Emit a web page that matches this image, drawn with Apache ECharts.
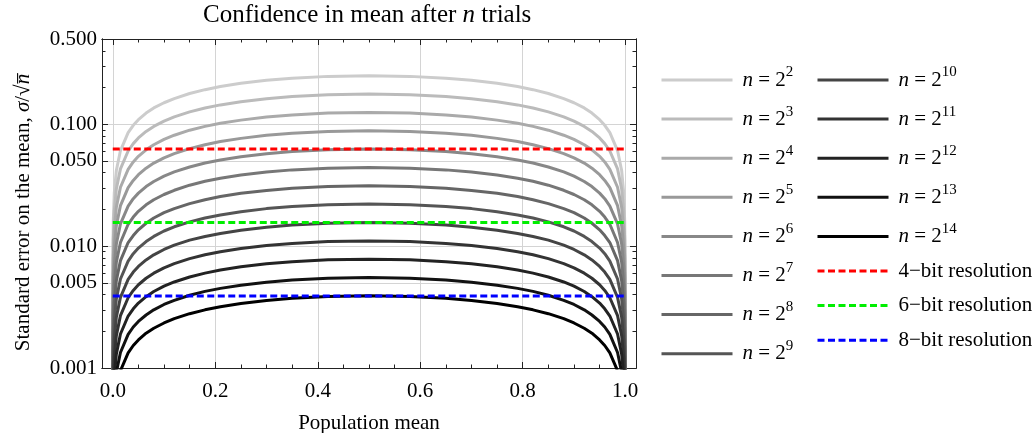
<!DOCTYPE html>
<html>
<head>
<meta charset="UTF-8" />
<title>Confidence in mean after n trials</title>
<script src="https://cdn.jsdelivr.net/npm/echarts@6/dist/echarts.min.js"></script>
<style>
  html, body { margin: 0; padding: 0; background: #ffffff; }
  #main { width: 1035px; height: 433px; }
</style>
</head>
<body>
<div id="main"></div>
<script type="text/javascript">
// population mean (x) where each curve was read
var xs = [0.000001, 0.0002, 0.001, 0.003, 0.007, 0.015, 0.03, 0.04, 0.05, 0.065, 0.08, 0.1, 0.12, 0.15, 0.18, 0.21, 0.25, 0.3, 0.35, 0.42, 0.5,
          0.58, 0.65, 0.7, 0.75, 0.79, 0.82, 0.85, 0.88, 0.9, 0.92, 0.935, 0.95, 0.96, 0.97, 0.985, 0.993, 0.997, 0.999, 0.9998, 0.999999];

// exponents k of n = 2^k
var exponents = [2, 3, 4, 5, 6, 7, 8, 9, 10, 11, 12, 13, 14];

// standard error, one list per n
var se_n4 = [0.0005, 0.00707, 0.0158, 0.0273, 0.0417, 0.0608, 0.0853, 0.098, 0.109, 0.1233, 0.136, 0.15, 0.162, 0.1785, 0.192, 0.2037, 0.217, 0.2291, 0.238, 0.2468, 0.25,
             0.2468, 0.238, 0.2291, 0.217, 0.2037, 0.192, 0.1785, 0.162, 0.15, 0.136, 0.1233, 0.109, 0.098, 0.0853, 0.0608, 0.0417, 0.0273, 0.0158, 0.00707, 0.0005];
var se_n8 = [0.000354, 0.005, 0.0112, 0.0193, 0.0295, 0.043, 0.0603, 0.0693, 0.0771, 0.0872, 0.0959, 0.1061, 0.115, 0.1262, 0.136, 0.144, 0.153, 0.162, 0.169, 0.1745, 0.177,
             0.1745, 0.169, 0.162, 0.153, 0.144, 0.136, 0.1262, 0.115, 0.1061, 0.0959, 0.0872, 0.0771, 0.0693, 0.0603, 0.043, 0.0295, 0.0193, 0.0112, 0.005, 0.000354];
var se_n16 = [0.00025, 0.00354, 0.0079, 0.0137, 0.0208, 0.0304, 0.0426, 0.049, 0.0545, 0.0616, 0.0678, 0.075, 0.0812, 0.0893, 0.096, 0.1018, 0.108, 0.1146, 0.119, 0.1234, 0.125,
              0.1234, 0.119, 0.1146, 0.108, 0.1018, 0.096, 0.0893, 0.0812, 0.075, 0.0678, 0.0616, 0.0545, 0.049, 0.0426, 0.0304, 0.0208, 0.0137, 0.0079, 0.00354, 0.00025];
var se_n32 = [0.000177, 0.0025, 0.00559, 0.00967, 0.0147, 0.0215, 0.0302, 0.0346, 0.0385, 0.0436, 0.048, 0.053, 0.0574, 0.0631, 0.0679, 0.072, 0.0765, 0.081, 0.0843, 0.0873, 0.0884,
              0.0873, 0.0843, 0.081, 0.0765, 0.072, 0.0679, 0.0631, 0.0574, 0.053, 0.048, 0.0436, 0.0385, 0.0346, 0.0302, 0.0215, 0.0147, 0.00967, 0.00559, 0.0025, 0.000177];
var se_n64 = [0.000125, 0.00177, 0.00395, 0.00684, 0.0104, 0.0152, 0.0213, 0.0245, 0.0272, 0.0308, 0.0339, 0.0375, 0.0406, 0.0446, 0.048, 0.0509, 0.0541, 0.0573, 0.0596, 0.0617, 0.0625,
              0.0617, 0.0596, 0.0573, 0.0541, 0.0509, 0.048, 0.0446, 0.0406, 0.0375, 0.0339, 0.0308, 0.0272, 0.0245, 0.0213, 0.0152, 0.0104, 0.00684, 0.00395, 0.00177, 0.000125];
var se_n128 = [0.0000884, 0.00125, 0.00279, 0.00483, 0.00737, 0.0107, 0.0151, 0.0173, 0.0193, 0.0218, 0.024, 0.0265, 0.0287, 0.0316, 0.034, 0.036, 0.0383, 0.0405, 0.0422, 0.0436, 0.0442,
               0.0436, 0.0422, 0.0405, 0.0383, 0.036, 0.034, 0.0316, 0.0287, 0.0265, 0.024, 0.0218, 0.0193, 0.0173, 0.0151, 0.0107, 0.00737, 0.00483, 0.00279, 0.00125, 0.0000884];
var se_n256 = [0.0000625, 0.000884, 0.00198, 0.00342, 0.00521, 0.0076, 0.0107, 0.0122, 0.0136, 0.0154, 0.017, 0.0188, 0.0203, 0.0223, 0.024, 0.0255, 0.0271, 0.0286, 0.0298, 0.0308, 0.0313,
               0.0308, 0.0298, 0.0286, 0.0271, 0.0255, 0.024, 0.0223, 0.0203, 0.0188, 0.017, 0.0154, 0.0136, 0.0122, 0.0107, 0.0076, 0.00521, 0.00342, 0.00198, 0.000884, 0.0000625];
var se_n512 = [0.0000442, 0.000625, 0.0014, 0.00242, 0.00369, 0.00537, 0.00754, 0.00866, 0.00963, 0.0109, 0.012, 0.0133, 0.0144, 0.0158, 0.017, 0.018, 0.0191, 0.0203, 0.0211, 0.0218, 0.0221,
               0.0218, 0.0211, 0.0203, 0.0191, 0.018, 0.017, 0.0158, 0.0144, 0.0133, 0.012, 0.0109, 0.00963, 0.00866, 0.00754, 0.00537, 0.00369, 0.00242, 0.0014, 0.000625, 0.0000442];
var se_n1024 = [0.0000313, 0.000442, 0.000988, 0.00171, 0.00261, 0.0038, 0.00533, 0.00612, 0.00681, 0.0077, 0.00848, 0.00938, 0.0102, 0.0112, 0.012, 0.0127, 0.0135, 0.0143, 0.0149, 0.0154, 0.0156,
                0.0154, 0.0149, 0.0143, 0.0135, 0.0127, 0.012, 0.0112, 0.0102, 0.00938, 0.00848, 0.0077, 0.00681, 0.00612, 0.00533, 0.0038, 0.00261, 0.00171, 0.000988, 0.000442, 0.0000313];
var se_n2048 = [0.0000221, 0.000313, 0.000698, 0.00121, 0.00184, 0.00269, 0.00377, 0.00433, 0.00482, 0.00545, 0.006, 0.00663, 0.00718, 0.00789, 0.00849, 0.009, 0.00957, 0.0101, 0.0105, 0.0109, 0.011,
                0.0109, 0.0105, 0.0101, 0.00957, 0.009, 0.00849, 0.00789, 0.00718, 0.00663, 0.006, 0.00545, 0.00482, 0.00433, 0.00377, 0.00269, 0.00184, 0.00121, 0.000698, 0.000313, 0.0000221];
var se_n4096 = [0.0000156, 0.000221, 0.000494, 0.000855, 0.0013, 0.0019, 0.00267, 0.00306, 0.00341, 0.00385, 0.00424, 0.00469, 0.00508, 0.00558, 0.006, 0.00636, 0.00677, 0.00716, 0.00745, 0.00771, 0.00781,
                0.00771, 0.00745, 0.00716, 0.00677, 0.00636, 0.006, 0.00558, 0.00508, 0.00469, 0.00424, 0.00385, 0.00341, 0.00306, 0.00267, 0.0019, 0.0013, 0.000855, 0.000494, 0.000221, 0.0000156];
var se_n8192 = [0.000011, 0.000156, 0.000349, 0.000604, 0.000921, 0.00134, 0.00189, 0.00217, 0.00241, 0.00272, 0.003, 0.00332, 0.00359, 0.00395, 0.00425, 0.0045, 0.00478, 0.00506, 0.00527, 0.00545, 0.00552,
                0.00545, 0.00527, 0.00506, 0.00478, 0.0045, 0.00425, 0.00395, 0.00359, 0.00332, 0.003, 0.00272, 0.00241, 0.00217, 0.00189, 0.00134, 0.000921, 0.000604, 0.000349, 0.000156, 0.000011];
var se_n16384 = [0.0000078, 0.00011, 0.000247, 0.000427, 0.000651, 0.00095, 0.00133, 0.00153, 0.0017, 0.00193, 0.00212, 0.00234, 0.00254, 0.00279, 0.003, 0.00318, 0.00338, 0.00358, 0.00373, 0.00386, 0.00391,
                 0.00386, 0.00373, 0.00358, 0.00338, 0.00318, 0.003, 0.00279, 0.00254, 0.00234, 0.00212, 0.00193, 0.0017, 0.00153, 0.00133, 0.00095, 0.000651, 0.000427, 0.000247, 0.00011, 0.0000078];

var seriesValues = [se_n4, se_n8, se_n16, se_n32, se_n64, se_n128, se_n256, se_n512,
                    se_n1024, se_n2048, se_n4096, se_n8192, se_n16384];

// resolution lines
var bitNames = ['4\u2212bit resolution', '6\u2212bit resolution', '8\u2212bit resolution'];
var bitLevels = [0.0625, 0.0156, 0.0039];
var bitX = [0, 1];

// ticks
var xTickLabels = [0, 0.2, 0.4, 0.6, 0.8, 1.0];
var xMinorTicks = [0.05, 0.1, 0.15, 0.25, 0.3, 0.35, 0.45, 0.5, 0.55, 0.65, 0.7, 0.75, 0.85, 0.9, 0.95];
var yTickLabels = [0.001, 0.005, 0.01, 0.05, 0.1, 0.5];
var yMinorTicks = [0.002, 0.003, 0.004, 0.006, 0.007, 0.008, 0.009, 0.02, 0.03, 0.04, 0.06, 0.07, 0.08, 0.09, 0.2, 0.3, 0.4];

// styles
var grays = ['#cccccc', '#bbbbbb', '#aaaaaa', '#999999', '#888888', '#777777', '#666666',
             '#555555', '#444444', '#333333', '#222222', '#111111', '#000000'];
var bitColors = ['#ff0000', '#00ee00', '#0000ff'];

var FONT = "'Liberation Serif', 'DejaVu Serif', serif";
var FRAME = '#222222';

var myChart = echarts.init(document.getElementById('main'), null, { renderer: 'canvas' });

var series = [];
var curveNames = [];
for (var s = 0; s < seriesValues.length; s++) {
    var name = 'n = 2^' + exponents[s];
    curveNames.push(name);
    var pts = [];
    for (var j = 0; j < xs.length; j++) {
        pts.push([xs[j], seriesValues[s][j]]);
    }
    series.push({
        name: name,
        type: 'line',
        data: pts,
        showSymbol: false,
        symbol: 'none',
        smooth: false,
        clip: true,
        lineStyle: { color: grays[s], width: 3, join: 'round' },
        itemStyle: { color: grays[s] },
        z: 2
    });
}
for (var b = 0; b < bitLevels.length; b++) {
    series.push({
        name: bitNames[b],
        type: 'line',
        data: [[bitX[0], bitLevels[b]], [bitX[1], bitLevels[b]]],
        showSymbol: false,
        symbol: 'none',
        lineStyle: { color: bitColors[b], width: 3, type: [7, 3.5] },
        itemStyle: { color: bitColors[b] },
        z: 3
    });
}

function legendText(name) {
    var m = name.match(/^n = 2\^(\d+)$/);
    if (m) {
        return '{p|}{i|n}{t| = 2}{s|' + m[1] + '}';
    }
    return '{p|}{t|' + name + '}';
}

var legendRich = {
    p: { width: 5 },
    i: { fontFamily: FONT, fontStyle: 'italic', fontSize: 21, lineHeight: 30, color: '#000' },
    t: { fontFamily: FONT, fontSize: 21, lineHeight: 30, color: '#000' },
    s: { fontFamily: FONT, fontSize: 15, lineHeight: 14, verticalAlign: 'top', color: '#000' }
};

function legendBlock(names, left) {
    return {
        data: names,
        orient: 'vertical',
        left: left,
        top: 65,
        padding: 0,
        itemWidth: 71,
        itemHeight: 14,
        itemGap: 13.6,
        selectedMode: false,
        itemStyle: { opacity: 0 },
        lineStyle: { width: 3 },
        formatter: legendText,
        textStyle: { fontFamily: FONT, fontSize: 21, color: '#000', rich: legendRich }
    };
}

function xAxisCfg(pos, values, len, withLabels) {
    return {
        type: 'value',
        position: pos,
        min: -0.021,
        max: 1.021,
        axisLine: { show: true, onZero: false, lineStyle: { color: FRAME, width: 1 } },
        axisTick: { show: true, inside: true, length: len, customValues: values, lineStyle: { color: FRAME, width: 1 } },
        axisLabel: withLabels ? {
            show: true, customValues: values, margin: 13,
            fontFamily: FONT, fontSize: 21, color: '#000',
            formatter: function (v) { return Number(v).toFixed(1); }
        } : { show: false },
        splitLine: withLabels ? { show: true, lineStyle: { color: '#d4d4d4', width: 1 } } : { show: false },
        name: withLabels ? 'Population mean' : '',
        nameLocation: 'middle',
        nameGap: 45,
        nameTextStyle: { fontFamily: FONT, fontSize: 21, color: '#000' }
    };
}

function yAxisCfg(pos, values, len, withLabels) {
    return {
        type: 'log',
        logBase: 10,
        position: pos,
        min: 0.001,
        max: 0.5,
        axisLine: { show: true, onZero: false, lineStyle: { color: FRAME, width: 1 } },
        axisTick: { show: true, inside: true, length: len, customValues: values, lineStyle: { color: FRAME, width: 1 } },
        axisLabel: withLabels ? {
            show: true, customValues: values, margin: 5,
            fontFamily: FONT, fontSize: 21, color: '#000',
            formatter: function (v) { return Number(v).toFixed(3); }
        } : { show: false },
        minorTick: { show: false },
        splitLine: withLabels ? { show: true, lineStyle: { color: '#d4d4d4', width: 1 } } : { show: false },
        name: withLabels ? 'Standard error on the mean, {i|\u03c3}/\u221a{i|n\u0305}{e|}' : '',
        nameLocation: 'middle',
        nameGap: 68,
        nameTextStyle: {
            fontFamily: FONT, fontSize: 21, color: '#000',
            rich: {
                i: { fontFamily: FONT, fontStyle: 'italic', fontSize: 21, color: '#000' },
                e: { width: 18 }
            }
        }
    };
}

var option = {
    animation: false,
    backgroundColor: '#ffffff',
    title: {
        text: '{t|Confidence in mean after }{i|n}{t| trials}',
        left: 203,
        top: 3,
        padding: 0,
        textStyle: {
            fontFamily: FONT, fontSize: 25, fontWeight: 'normal', color: '#000',
            rich: {
                t: { fontFamily: FONT, fontSize: 25, color: '#000' },
                i: { fontFamily: FONT, fontSize: 25, fontStyle: 'italic', color: '#000' }
            }
        }
    },
    grid: { left: 102, right: 399, top: 39, bottom: 65, containLabel: false, outerBoundsMode: 'none' },
    legend: [
        legendBlock(curveNames.slice(0, 8), 660),
        legendBlock(curveNames.slice(8).concat(bitNames), 816)
    ],
    xAxis: [
        xAxisCfg('bottom', xTickLabels, 6, true),
        xAxisCfg('bottom', xMinorTicks, 3.5, false),
        xAxisCfg('top', xTickLabels, 6, false),
        xAxisCfg('top', xMinorTicks, 3.5, false)
    ],
    yAxis: [
        yAxisCfg('left', yTickLabels, 6, true),
        yAxisCfg('left', yMinorTicks, 3.5, false),
        yAxisCfg('right', yTickLabels, 6, false),
        yAxisCfg('right', yMinorTicks, 3.5, false)
    ],
    series: series
};

myChart.setOption(option);
</script>
</body>
</html>
